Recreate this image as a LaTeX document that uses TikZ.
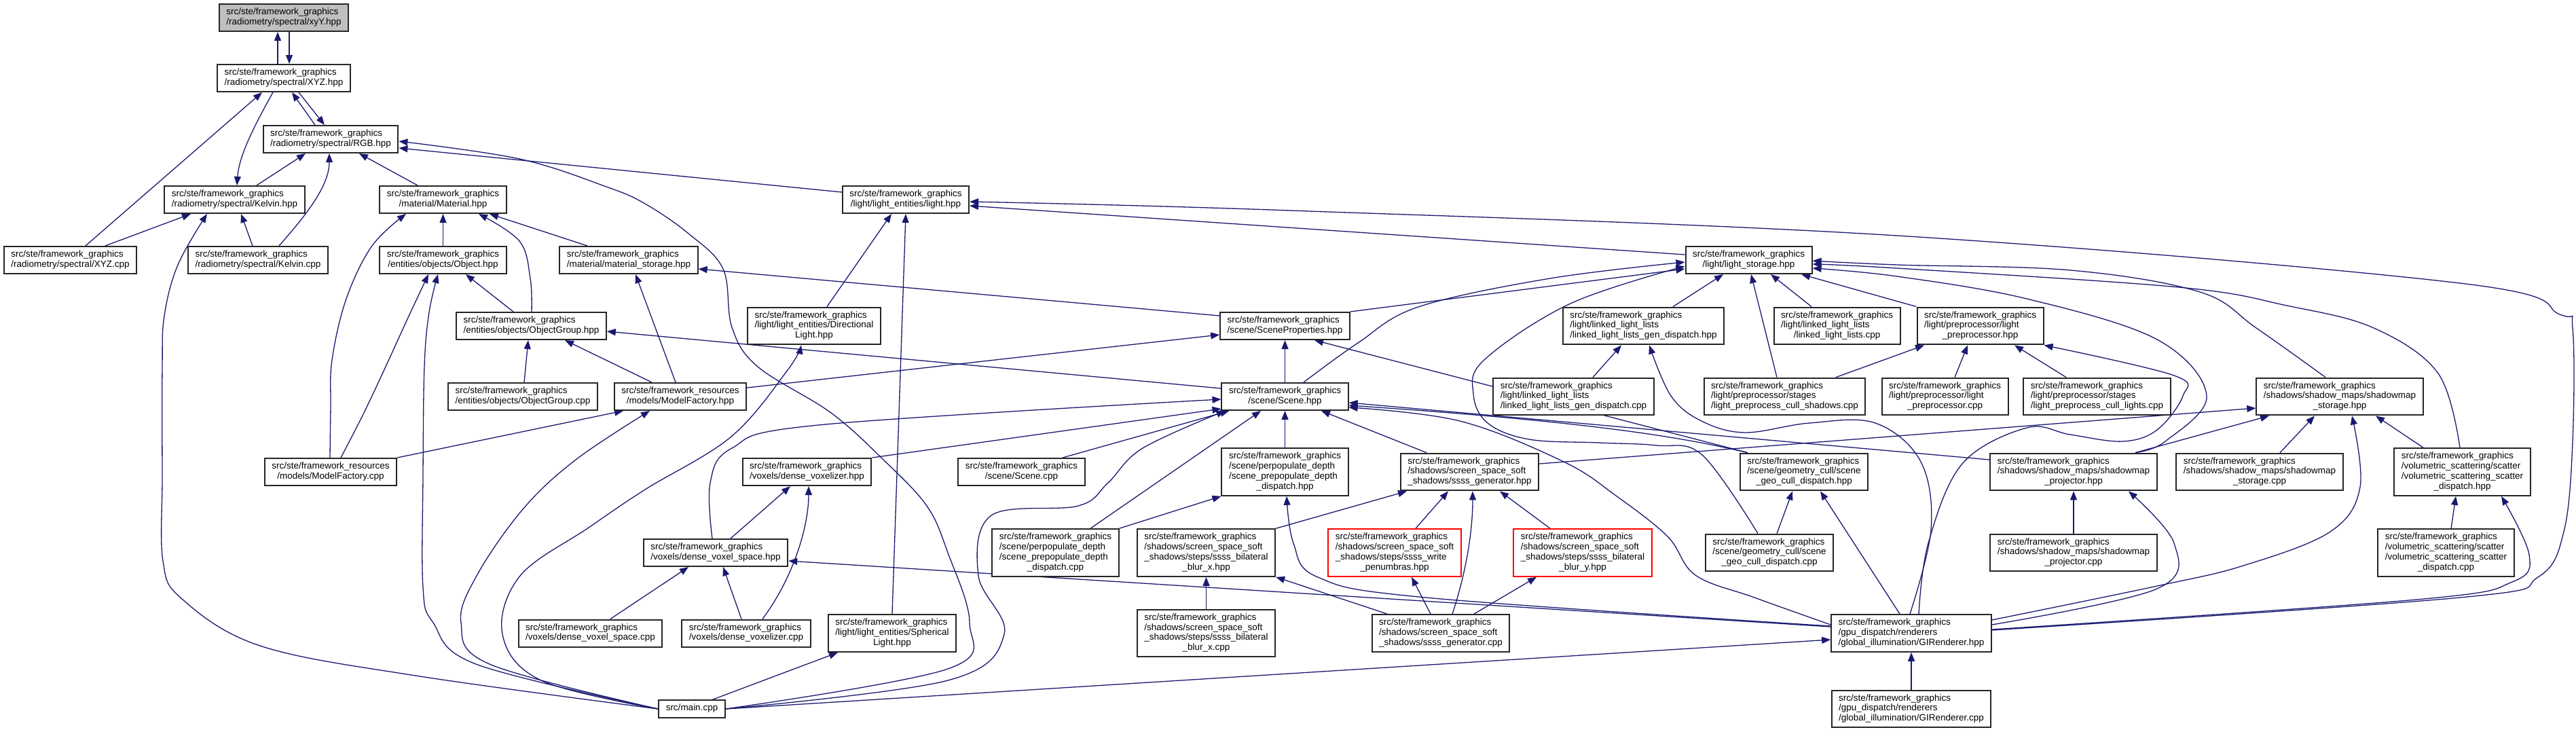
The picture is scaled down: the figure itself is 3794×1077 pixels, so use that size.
\documentclass[tikz,border=0pt]{standalone}
\usepackage{fontspec}
\setmainfont{Liberation Sans}
\usetikzlibrary{arrows.meta,backgrounds}
\definecolor{edgeblue}{HTML}{191970}
\newcommand{\fg}{src/ste/framework\_graphics}
\newcommand{\fr}{src/ste/framework\_resources}
\newcommand{\lbl}[2]{\begin{tabular}{@{}l@{}}#1\\\multicolumn{1}{@{}c@{}}{#2}\end{tabular}}

\begin{document}
\begin{tikzpicture}[
  x=0.5pt, y=-0.5pt,
  fnode/.style={draw=black!85, fill=white, line width=1pt,
                inner xsep=5.25pt, inner ysep=2.6pt,
                font=\fontsize{6.75}{7.4}\selectfont},
  rootnode/.style={fnode, fill=black!25},
  trunc/.style={fnode, draw=red},
  dep/.style={-{Triangle[length=6.5pt,width=5pt]}, color=edgeblue, line width=0.65pt},
  offx/.style={shift={(#1,0)}},
  offy/.style={shift={(0,#1)}}
]
\useasboundingbox (0,0) rectangle (3794,1077);

\node[rootnode] (xyy) at (418,26) {\lbl{\fg}{/radiometry/spectral/xyY.hpp}};
\node[fnode] (xyz) at (418,115) {\lbl{\fg}{/radiometry/spectral/XYZ.hpp}};
\node[fnode] (rgb) at (487,205) {\lbl{\fg}{/radiometry/spectral/RGB.hpp}};
\node[fnode] (kelvin) at (345.5,294) {\lbl{\fg}{/radiometry/spectral/Kelvin.hpp}};
\node[fnode] (material) at (652.5,294) {\lbl{\fg}{/material/Material.hpp}};
\node[fnode] (light) at (1334,294) {\lbl{\fg}{/light/light\_entities/light.hpp}};
\node[fnode] (xyzcpp) at (103.5,383) {\lbl{\fg}{/radiometry/spectral/XYZ.cpp}};
\node[fnode] (kelvincpp) at (380,383) {\lbl{\fg}{/radiometry/spectral/Kelvin.cpp}};
\node[fnode] (object) at (652.5,383) {\lbl{\fg}{/entities/objects/Object.hpp}};
\node[fnode] (matstorage) at (926,383) {\lbl{\fg}{/material/material\_storage.hpp}};
\node[fnode] (lightstorage) at (2575.5,383) {\lbl{\fg}{/light/light\_storage.hpp}};
\node[fnode] (objgroup) at (782.5,480) {\lbl{\fg}{/entities/objects/ObjectGroup.hpp}};
\node[fnode] (dirlight) at (1199,480) {\lbl{\fg\\/light/light\_entities/Directional}{Light.hpp}};
\node[fnode] (sceneprops) at (1892.5,480) {\lbl{\fg}{/scene/SceneProperties.hpp}};
\node[fnode] (llgendisp) at (2420.5,480) {\lbl{\fg\\/light/linked\_light\_lists}{/linked\_light\_lists\_gen\_dispatch.hpp}};
\node[fnode] (llcpp) at (2705.5,480) {\lbl{\fg\\/light/linked\_light\_lists}{/linked\_light\_lists.cpp}};
\node[fnode] (lpre) at (2916.5,480) {\lbl{\fg\\/light/preprocessor/light}{\_preprocessor.hpp}};
\node[fnode] (objgroupcpp) at (770,584) {\lbl{\fg}{/entities/objects/ObjectGroup.cpp}};
\node[fnode] (mfhpp) at (1002,584) {\lbl{\fr}{/models/ModelFactory.hpp}};
\node[fnode] (scene) at (1892.5,584) {\lbl{\fg}{/scene/Scene.hpp}};
\node[fnode] (llgendispcpp) at (2317.5,584) {\lbl{\fg\\/light/linked\_light\_lists}{/linked\_light\_lists\_gen\_dispatch.cpp}};
\node[fnode] (cullshadows) at (2628.5,584) {\lbl{\fg\\/light/preprocessor/stages}{/light\_preprocess\_cull\_shadows.cpp}};
\node[fnode] (lprecpp) at (2864.5,584) {\lbl{\fg\\/light/preprocessor/light}{\_preprocessor.cpp}};
\node[fnode] (culllights) at (3088.5,584) {\lbl{\fg\\/light/preprocessor/stages}{/light\_preprocess\_cull\_lights.cpp}};
\node[fnode] (smstorage) at (3446,584) {\lbl{\fg\\/shadows/shadow\_maps/shadowmap}{\_storage.hpp}};
\node[fnode] (mfcpp) at (487,695) {\lbl{\fr}{/models/ModelFactory.cpp}};
\node[fnode] (dvzhpp) at (1188.5,695) {\lbl{\fg}{/voxels/dense\_voxelizer.hpp}};
\node[fnode] (scenecpp) at (1504.5,695) {\lbl{\fg}{/scene/Scene.cpp}};
\node[fnode] (prepdisp) at (1892.5,695) {\lbl{\fg\\/scene/perpopulate\_depth\\/scene\_prepopulate\_depth}{\_dispatch.hpp}};
\node[fnode] (ssssgen) at (2164.5,695) {\lbl{\fg\\/shadows/screen\_space\_soft}{\_shadows/ssss\_generator.hpp}};
\node[fnode] (geocull) at (2657,695) {\lbl{\fg\\/scene/geometry\_cull/scene}{\_geo\_cull\_dispatch.hpp}};
\node[fnode] (smproj) at (3054,695) {\lbl{\fg\\/shadows/shadow\_maps/shadowmap}{\_projector.hpp}};
\node[fnode] (smstoragecpp) at (3328,695) {\lbl{\fg\\/shadows/shadow\_maps/shadowmap}{\_storage.cpp}};
\node[fnode] (scatter) at (3626.5,695) {\lbl{\fg\\/volumetric\_scattering/scatter\\/volumetric\_scattering\_scatter}{\_dispatch.hpp}};
\node[fnode] (dvshpp) at (1054,814) {\lbl{\fg}{/voxels/dense\_voxel\_space.hpp}};
\node[fnode] (prepcpp) at (1554.5,814) {\lbl{\fg\\/scene/perpopulate\_depth\\/scene\_prepopulate\_depth}{\_dispatch.cpp}};
\node[fnode] (blurx) at (1776.5,814) {\lbl{\fg\\/shadows/screen\_space\_soft\\\_shadows/steps/ssss\_bilateral}{\_blur\_x.hpp}};
\node[trunc] (penumbras) at (2054,814) {\lbl{\fg\\/shadows/screen\_space\_soft\\\_shadows/steps/ssss\_write}{\_penumbras.hpp}};
\node[trunc] (blury) at (2331,814) {\lbl{\fg\\/shadows/screen\_space\_soft\\\_shadows/steps/ssss\_bilateral}{\_blur\_y.hpp}};
\node[fnode] (geocullcpp) at (2606,814) {\lbl{\fg\\/scene/geometry\_cull/scene}{\_geo\_cull\_dispatch.cpp}};
\node[fnode] (smprojcpp) at (3054,814) {\lbl{\fg\\/shadows/shadow\_maps/shadowmap}{\_projector.cpp}};
\node[fnode] (scattercpp) at (3602.5,814) {\lbl{\fg\\/volumetric\_scattering/scatter\\/volumetric\_scattering\_scatter}{\_dispatch.cpp}};
\node[fnode] (dvscpp) at (869.5,932.5) {\lbl{\fg}{/voxels/dense\_voxel\_space.cpp}};
\node[fnode] (dvzcpp) at (1099,932.5) {\lbl{\fg}{/voxels/dense\_voxelizer.cpp}};
\node[fnode] (spherical) at (1314,932.5) {\lbl{\fg\\/light/light\_entities/Spherical}{Light.hpp}};
\node[fnode] (blurxcpp) at (1776.5,932.5) {\lbl{\fg\\/shadows/screen\_space\_soft\\\_shadows/steps/ssss\_bilateral}{\_blur\_x.cpp}};
\node[fnode] (ssssgencpp) at (2122,932.5) {\lbl{\fg\\/shadows/screen\_space\_soft}{\_shadows/ssss\_generator.cpp}};
\node[fnode] (gihpp) at (2815,932.5) {\lbl{\fg\\/gpu\_dispatch/renderers}{/global\_illumination/GIRenderer.hpp}};
\node[fnode] (main) at (1019,1044) {\begin{tabular}{@{}c@{}}src/main.cpp\end{tabular}};
\node[fnode] (gicpp) at (2815,1044) {\lbl{\fg\\/gpu\_dispatch/renderers}{/global\_illumination/GIRenderer.cpp}};

\begin{scope}[on background layer]
\draw[dep] ([offx=-9]xyz.north) -- ([offx=-9]xyy.south);
\draw[dep] ([offx=8]xyy.south) -- ([offx=8]xyz.north);
\draw[dep] ([offx=-23]rgb.north) -- ([offx=12]xyz.south);
\draw[dep] ([offx=22]xyz.south) -- ([offx=-9]rgb.north);
\draw[dep] ([offx=22.5]xyzcpp.north) -- ([offx=-32]xyz.south);
\draw[dep] ([offx=-16]xyz.south) .. controls +(-25,45) and +(3,-45) .. ([offx=3.5]kelvin.north);
\draw[dep] ([offx=32.5]kelvin.north) -- ([offx=-37]rgb.south);
\draw[dep] ([offx=31]kelvincpp.north) .. controls +(35,-40) and +(0,50) .. ([offx=-2]rgb.south);
\draw[dep] ([offx=-37.5]material.north) -- ([offx=42]rgb.south);
\draw[dep] ([offy=-11]light.west) -- ([offy=13]rgb.east);
\draw[dep] plot[smooth, tension=0.6] coordinates {(main.east) (1396,985) (1428,917) (1396,814) (1365,745) (1301,677) (1224,608) (1116,540) (1078,482) (1065,396) (1014,344) (950,300) (893,275) (765,234) ([offy=3]rgb.east)};
\draw[dep] ([offx=51.5]xyzcpp.north) -- ([offx=-64.5]kelvin.south);
\draw[dep] plot[smooth, tension=0.6] coordinates {(main.west) (612,995) (383,951) (268,882) (240,826) (239,700) (239,540) (242,465) (262,390) ([offx=-40.5]kelvin.south)};
\draw[dep] ([offx=-8]kelvincpp.north) -- ([offx=9.5]kelvin.south);
\draw[dep] plot[smooth, tension=0.6] coordinates {([offx=-1]mfcpp.north) (487,600) (489,530) (510,440) (548,362) ([offx=-54.5]material.south)};
\draw[dep] (object.north) -- (material.south);
\draw[dep] plot[smooth, tension=0.6] coordinates {([offx=0.5]objgroup.north) (781,410) (765,355) ([offx=52.5]material.south)};
\draw[dep] ([offx=-61]matstorage.north) -- ([offx=68.5]material.south);
\draw[dep] plot[smooth, tension=0.6] coordinates {([offx=15]mfcpp.north) (535,610) (568,540) (600,470) ([offx=-21.5]object.south)};
\draw[dep] plot[smooth, tension=0.6] coordinates {(main.west) (701,978) (638,917) (623,865) (623,700) (625,540) (632,460) ([offx=-7.5]object.south)};
\draw[dep] ([offx=-26.5]objgroup.north) -- ([offx=33.5]object.south);
\draw[dep] ([offy=-12]scene.west) -- ([offy=8]objgroup.east);
\draw[dep] ([offx=2]objgroupcpp.north) -- ([offx=-4.5]objgroup.south);
\draw[dep] ([offx=-42]mfhpp.north) -- ([offx=49.5]objgroup.south);
\draw[dep] ([offy=-13]mfhpp.east) -- ([offy=13]sceneprops.west);
\draw[dep] ([offx=-7]mfhpp.north) -- ([offx=10]matstorage.south);
\draw[dep] ([offy=-15]sceneprops.west) -- ([offy=13]matstorage.east);
\draw[dep] (mfcpp.north east) -- ([offx=-84]mfhpp.south);
\draw[dep] plot[smooth, tension=0.6] coordinates {(main.west) (721,978) (679,917) (702,848) (770,750) (848,677) ([offx=-45]mfhpp.south)};
\draw[dep] plot[smooth, tension=0.6] coordinates {(main.west) (797,1002) (740,934) (766,848) (867,777) (950,721) (1077,643) (1160,545) ([offx=-19]dirlight.south)};
\draw[dep] ([offx=19]dirlight.north) -- ([offx=-21]light.south);
\draw[dep] (spherical.north) -- (light.south);
\draw[dep] ([offx=30]main.north) -- ([offx=-80]spherical.south);
\draw[dep] (main.east) -- ([offy=9.5]gihpp.west);
\draw[dep] plot[smooth, tension=0.6] coordinates {(main.east) (1396,1002) (1479,934) (1441,848) (1460,759) (1588,745) (1632,711) (1683,660) ([offx=6]scene.south west)};
\draw[dep] plot[smooth, tension=0.6] coordinates {([offx=-5]dvshpp.north) (1046,711) (1078,660) (1205,626) ([offy=4]scene.west)};
\draw[dep] (dvzhpp.north east) -- ([offy=18]scene.west);
\draw[dep] ([offx=60.5]scenecpp.north) -- ([offx=12]scene.south west);
\draw[dep] ([offx=51.5]prepcpp.north) -- ([offx=-35.5]scene.south);
\draw[dep] (prepcpp.north east) -- (prepdisp.south west);
\draw[dep] (prepdisp.north) -- (scene.south);
\draw[dep] (scene.north) -- (sceneprops.south);
\draw[dep] ([offx=-63.5]ssssgen.north) -- ([offx=53.5]scene.south);
\draw[dep] (blurx.north east) -- ([offx=-92.5]ssssgen.south);
\draw[dep] (blurxcpp.north) -- (blurx.south);
\draw[dep] ([offx=-79]ssssgencpp.north) -- (blurx.south east);
\draw[dep] plot[smooth, tension=0.6] coordinates {([offy=-10.5]gihpp.west) (2100,880) (1941,850) (1905,800) ([offx=2.5]prepdisp.south)};
\draw[dep] ([offy=-9.5]gihpp.west) -- ([offy=12]dvshpp.east);
\draw[dep] ([offx=31]penumbras.north) -- ([offx=-31.5]ssssgen.south);
\draw[dep] ([offx=-48]blury.north) -- ([offx=44.5]ssssgen.south);
\draw[dep] ([offx=17]ssssgencpp.north) .. controls +(20,-60) and +(0,60) .. ([offx=4.5]ssssgen.south);
\draw[dep] ([offx=-15]ssssgencpp.north) -- ([offx=25]penumbras.south);
\draw[dep] ([offx=49]ssssgencpp.north) -- ([offx=-68]blury.south);
\draw[dep] ([offy=-12]ssssgen.east) -- ([offy=17]smstorage.west);
\draw[dep] ([offx=12]geocull.north west) .. controls (2482,645) and (2354,622) .. ([offy=13]scene.east);
\draw[dep] ([offx=12]geocull.north west) -- ([offx=43.5]sceneprops.south);
\draw[dep] ([offx=11]geocullcpp.north) -- ([offx=-17]geocull.south);
\draw[dep] plot[smooth, tension=0.6] coordinates {([offx=-17]geocullcpp.north) (2507,670) (2440,656) (2354,652) (2252,647) (2191,623) (2170,580) (2186,530) (2313,447) ([offy=9]lightstorage.west)};
\draw[dep] ([offx=-17]gihpp.north) -- ([offx=24]geocull.south);
\draw[dep] plot[smooth, tension=0.6] coordinates {([offy=-12.5]gihpp.west) (2584,880) (2497,847) (2456,790) (2380,730) (2303,680) (2150,620) ([offy=16]scene.east)};
\draw[dep] ([offy=-18]smproj.west) -- ([offy=9]scene.east);
\draw[dep] plot[smooth, tension=0.6] coordinates {([offx=91]smproj.north) (3189,650) (3250,583) (3177,500) (2985,440) (2794,407) ([offy=12]lightstorage.east)};
\draw[dep] ([offx=91]smproj.north) -- ([offx=-104]smstorage.south);
\draw[dep] (smprojcpp.north) -- (smproj.south);
\draw[dep] ([offx=30]smstoragecpp.north) -- ([offx=-37]smstorage.south);
\draw[dep] ([offx=-57.5]scatter.north) -- ([offx=53]smstorage.south);
\draw[dep] plot[smooth, tension=0.6] coordinates {([offx=-21]smstorage.north) (3323,483) (3240,430) (3050,398) (2794,390) ([offy=1]lightstorage.east)};
\draw[dep] plot[smooth, tension=0.6] coordinates {([offx=-3.5]scatter.north) (3591,550) (3496,483) (3368,450) (3209,423) (2794,395) ([offy=6]lightstorage.east)};
\draw[dep] ([offx=7.5]scattercpp.north) -- ([offx=-9.5]scatter.south);
\draw[dep] plot[smooth, tension=0.6] coordinates {([offy=-5.5]gihpp.east) (3559,883) (3700,857) (3725,817) ([offx=57.5]scatter.south)};
\draw[dep] plot[smooth, tension=0.6] coordinates {([offy=-19.5]gihpp.east) (3177,863) (3304,833) (3432,783) (3476,717) ([offx=18]smstorage.south)};
\draw[dep] plot[smooth, tension=0.6] coordinates {([offy=-12.5]gihpp.east) (3177,867) (3202,800) ([offx=81]smproj.south)};
\draw[dep] plot[smooth, tension=0.6] coordinates {([offy=-4.5]gihpp.east) (3623,880) (3738,850) (3776,783) (3789,650) (3789,483) (3770,463) (3623,417) (2794,347) (1900,310) ([offy=3]light.east)};
\draw[dep] ([offy=-8]lightstorage.west) -- ([offy=9]light.east);
\draw[dep] plot[smooth, tension=0.6] coordinates {([offx=11]gihpp.north) (2840,800) (2890,683) (2985,630) (3049,640) (3126,650) (3177,633) (3215,583) (3202,553) (lpre.south east)};
\draw[dep] plot[smooth, tension=0.6] coordinates {([offx=-2]gihpp.north) (2844,780) (2829,680) (2762,623) (2665,623) (2570,637) (2506,620) (2461,583) ([offx=8.5]llgendisp.south)};
\draw[dep] (gicpp.north) -- (gihpp.south);
\draw[dep] ([offx=43.5]llgendisp.north) -- ([offx=-37.5]lightstorage.south);
\draw[dep] ([offx=28.5]llgendispcpp.north) -- ([offx=-32.5]llgendisp.south);
\draw[dep] ([offx=-37.5]llcpp.north) -- ([offx=32.5]lightstorage.south);
\draw[dep] ([offx=-11.5]cullshadows.north) -- ([offx=3.5]lightstorage.south);
\draw[dep] ([offx=75.5]cullshadows.north) -- ([offx=-82.5]lpre.south);
\draw[dep] ([offx=14.5]lprecpp.north) -- ([offx=-18.5]lpre.south);
\draw[dep] ([offx=-45.5]culllights.north) -- ([offx=50.5]lpre.south);
\draw[dep] (lpre.north west) -- ([offx=77.5]lightstorage.south);
\draw[dep] plot[smooth, tension=0.6] coordinates {([offx=27.5]scene.north) (2000,505) (2089,452) (2283,410) ([offy=3]lightstorage.west)};
\draw[dep] (sceneprops.north east) -- ([offy=13]lightstorage.west);
\draw[dep] ([offx=24]dvzcpp.north) .. controls +(45,-60) and +(0,60) .. ([offx=2.5]dvzhpp.south);
\draw[dep] ([offx=22]dvshpp.north) -- ([offx=-24.5]dvzhpp.south);
\draw[dep] ([offx=-7]dvzcpp.north) -- ([offx=11]dvshpp.south);
\draw[dep] ([offx=29.5]dvscpp.north) -- ([offx=-40]dvshpp.south);
\end{scope}
\end{tikzpicture}
\end{document}
